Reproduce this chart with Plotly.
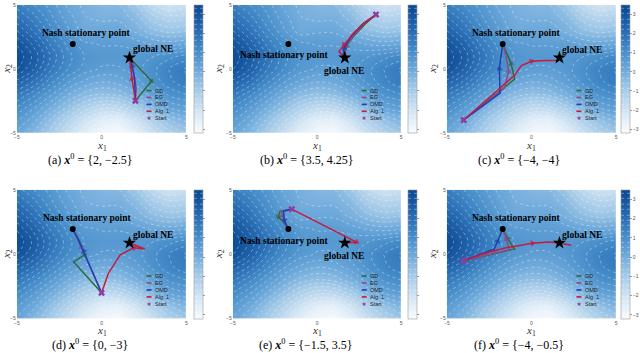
import plotly.graph_objects as go

W, H = 640, 353

# background surface on a coarse grid (rows: x2 from -5 to 5)
X_GRID = [-5, -4, -3, -2, -1, 0, 1, 2, 3, 4, 5]
Y_GRID = [-5, -4, -3, -2, -1, 0, 1, 2, 3, 4, 5]
Z_GRID = [
    [0.2, -0.3, -1.0, -1.8, -2.5, -3.0, -3.1, -2.6, -1.8, -1.2, -0.8],
    [0.6, 0.1, -0.6, -1.3, -2.0, -2.5, -2.6, -2.0, -1.2, -0.6, -0.2],
    [1.1, 0.6, 0.0, -0.6, -1.2, -1.6, -1.5, -1.0, -0.3, 0.3, 0.5],
    [1.7, 1.2, 0.6, 0.0, -0.4, -0.6, -0.5, -0.1, 0.4, 0.9, 1.1],
    [2.4, 1.9, 1.2, 0.6, 0.2, 0.0, 0.1, 0.4, 0.9, 1.3, 1.6],
    [3.1, 2.5, 1.7, 1.1, 0.7, 0.5, 0.5, 0.7, 1.0, 1.4, 1.7],
    [3.3, 2.7, 1.9, 1.2, 0.8, 0.7, 0.7, 0.7, 0.8, 1.0, 1.2],
    [3.0, 2.4, 1.6, 1.0, 0.6, 0.5, 0.5, 0.4, 0.2, 0.1, 0.2],
    [2.5, 1.9, 1.2, 0.6, 0.1, 0.2, 0.2, -0.1, -0.5, -0.7, -0.6],
    [2.0, 1.5, 0.9, 0.4, 0.0, -0.1, -0.1, -0.4, -1.0, -1.3, -1.2],
    [1.5, 1.1, 0.7, 0.2, -0.1, -0.3, -0.3, -0.8, -1.6, -2.0, -1.8],
]
CBAR_TICKS = [-3, -2, -1, 0, 1, 2, 3]

NASH_POINT = [-1.7, 1.95]
GLOBAL_NE = [1.65, 0.87]

PANEL_LETTERS = ["a", "b", "c", "d", "e", "f"]
START_TEXT = ["{2, −2.5}", "{3.5, 4.25}", "{−4, −4}", "{0, −3}", "{−1.5, 3.5}", "{−4, −0.5}"]
STARTS = [[2, -2.5], [3.5, 4.25], [-4, -4], [0, -3], [-1.5, 3.5], [-4, -0.5]]

METHODS = ["GD", "EG", "OMD", "Alg. 1"]

PATHS_A = {
    "GD": ([2, 2.95, 1.65], [-2.5, -0.95, 0.87]),
    "EG": ([2, 2.05, 1.8, 1.65], [-2.5, -1.5, 0.3, 0.87]),
    "OMD": ([2, 1.95, 1.8, 1.65], [-2.5, -0.7, 0.2, 0.87]),
    "Alg. 1": ([2, 1.8, 1.65], [-2.5, -0.8, 0.87]),
}
PATHS_B = {
    "GD": ([3.5, 2.85, 2.2, 1.75, 1.65, 1.65], [4.25, 3.5, 2.6, 1.8, 1.2, 0.87]),
    "EG": ([3.5, 2.8, 2.15, 1.7, 1.6, 1.65], [4.25, 3.55, 2.6, 1.75, 1.2, 0.87]),
    "OMD": ([3.5, 2.7, 2.0, 1.6, 1.55, 1.65], [4.25, 3.5, 2.5, 1.6, 1.1, 0.87]),
    "Alg. 1": ([3.5, 2.8, 2.1, 1.6, 1.3, 1.65], [4.25, 3.6, 2.7, 1.9, 1.35, 0.87]),
}
PATHS_C = {
    "GD": ([-4, -1.0, -1.2, -1.5, -1.7], [-4, -0.8, 0.4, 1.4, 1.95]),
    "EG": ([-4, -1.6, -1.35, -1.5, -1.7], [-4, -1.5, -0.2, 1.0, 1.95]),
    "OMD": ([-4, -1.85, -1.9, -1.75, -1.7], [-4, -1.9, 0.0, 1.5, 1.95]),
    "Alg. 1": ([-4, -1.0, -0.6, 0.0, 0.8, 1.45, 1.65], [-4, -0.5, 0.25, 0.6, 0.66, 0.66, 0.87]),
}
PATHS_D = {
    "GD": ([0, -1.65, -1.0, -1.3, -1.7], [-3, -0.6, -0.05, 1.0, 1.95]),
    "EG": ([0, -0.6, -1.2, -1.7], [-3, -1.2, 0.6, 1.95]),
    "OMD": ([0, -0.5, -1.05, -1.4, -1.7], [-3, -1.5, 0.25, 1.2, 1.95]),
    "Alg. 1": ([0, 0.4, 1.1, 1.9, 2.55, 1.65], [-3, -1.5, -0.05, 0.5, 0.4, 0.87]),
}
PATHS_E = {
    "GD": ([-1.5, -2.2, -2.3, -2.0, -1.7], [3.5, 3.32, 2.9, 2.5, 1.95]),
    "EG": ([-1.5, -2.15, -2.05, -1.9, -1.7], [3.5, 3.3, 3.0, 2.4, 1.95]),
    "OMD": ([-1.5, -2.0, -1.94, -1.7], [3.5, 3.32, 2.63, 1.95]),
    "Alg. 1": ([-1.5, 0.6, 2.35, 1.65], [3.5, 2.07, 0.93, 0.87]),
}
PATHS_F = {
    "GD": ([-4, -1.0, -1.4, -1.7], [-0.5, 0.4, 1.2, 1.95]),
    "EG": ([-4, -1.3, -1.5, -1.7], [-0.5, 0.35, 1.2, 1.95]),
    "OMD": ([-4, -2.2, -2.0, -1.8, -1.7], [-0.5, 0.4, 1.0, 1.6, 1.95]),
    "Alg. 1": ([-4, -2.8, -1.5, 0.05, 1.0, 1.65, 2.35], [-0.5, 0.05, 0.5, 0.85, 0.95, 0.87, 0.7]),
}
PATHS = [PATHS_A, PATHS_B, PATHS_C, PATHS_D, PATHS_E, PATHS_F]

# label centres in data units
NASH_LABEL_XY = [[-0.9, 2.8], [-1.95, 1.05], [-0.9, 2.8], [-0.87, 2.84], [-1.95, 1.05], [-0.93, 2.84]]
NE_LABEL_XY = [[3.05, 1.55], [1.6, -0.15], [3.0, 1.5], [3.05, 1.5], [1.6, -0.15], [3.0, 1.5]]

COLORS = {"GD": "#2f6a3c", "EG": "#8a4d8c", "OMD": "#1e3fb0", "Alg. 1": "#c61a3e"}
START_COLOR = "#8e3c9e"
BLUES = [
    [0.0, "#f9fcff"], [0.15, "#d8e8f5"], [0.35, "#a2c9e8"], [0.5, "#6ca8da"],
    [0.65, "#448bc8"], [0.8, "#276bb3"], [1.0, "#0a4790"],
]
SERIF = "Liberation Serif, DejaVu Serif, serif"
SANS = "Liberation Sans, Arial, sans-serif"

COL_PX = [(14, 185), (232, 402), (448, 619)]
ROW_PX = [(2, 132), (190, 321)]
CBAR_PX = [193, 409, 624]
CAPTION_PX = [88, 306, 521]
CAPTION_PY = [159, 347]
YLABEL_PX = [4, 218, 434]
XLABEL_PY = [145, 334]
LEGEND_TOP = 0.33
LEGEND_STEP = 0.054


def px_x(v):
    return v / W


def px_y(v):
    return 1 - v / H


fig = go.Figure()
annotations = []
shapes = []

for i in range(6):
    r, c = divmod(i, 3)
    k = "" if i == 0 else str(i + 1)
    xa, ya = "x" + k, "y" + k
    x0, x1 = COL_PX[c]
    y0, y1 = ROW_PX[r]

    show_labels = c == 2
    fig.add_trace(go.Contour(
        x=X_GRID, y=Y_GRID, z=Z_GRID,
        xaxis=xa, yaxis=ya,
        colorscale=BLUES, zmin=-3.2, zmax=3.5,
        contours=dict(coloring="heatmap", start=-3.1, end=3.4, size=0.28),
        line=dict(color="rgba(255,255,255,0.6)", width=0.6, dash="dot", smoothing=1.3),
        hoverinfo="skip",
        colorbar=dict(
            x=px_x(CBAR_PX[c]), xanchor="left", y=px_y(y0), yanchor="top",
            len=(y1 - y0) / H, lenmode="fraction", thickness=9, thicknessmode="pixels",
            xpad=0, ypad=0, outlinewidth=0.6, outlinecolor="#9a9a9a",
            tickvals=CBAR_TICKS, ticks="outside", ticklen=2, tickcolor="#999",
            showticklabels=show_labels, tickfont=dict(size=5, color="#555", family=SANS),
        ),
    ))

    for m in METHODS:
        xs, ys = PATHS[i][m]
        sizes = [0] * len(xs)
        sizes[len(xs) // 2] = 6
        fig.add_trace(go.Scatter(
            x=xs, y=ys, xaxis=xa, yaxis=ya, mode="lines+markers",
            line=dict(color=COLORS[m], width=1.5),
            marker=dict(symbol="triangle-up", size=sizes, angleref="previous",
                        color=COLORS[m], line=dict(width=0)),
            showlegend=False, hoverinfo="skip",
        ))

    fig.add_trace(go.Scatter(
        x=[NASH_POINT[0]], y=[NASH_POINT[1]], xaxis=xa, yaxis=ya, mode="markers",
        marker=dict(symbol="circle", size=6, color="black"), showlegend=False,
    ))
    fig.add_trace(go.Scatter(
        x=[GLOBAL_NE[0]], y=[GLOBAL_NE[1]], xaxis=xa, yaxis=ya, mode="markers",
        marker=dict(symbol="star", size=10, color="black"), showlegend=False,
    ))
    fig.add_trace(go.Scatter(
        x=[STARTS[i][0]], y=[STARTS[i][1]], xaxis=xa, yaxis=ya, mode="markers",
        marker=dict(symbol="x", size=6, color=START_COLOR, line=dict(width=0)), showlegend=False,
    ))

    axis_common = dict(
        range=[-5, 5], showgrid=False, zeroline=False, showline=False,
        tickvals=[-5, 0, 5], tickfont=dict(size=5, color="#555", family=SANS), ticks="",
    )
    fig.update_layout({
        "xaxis" + k: dict(axis_common, domain=[px_x(x0), px_x(x1)], anchor=ya),
        "yaxis" + k: dict(axis_common, domain=[px_y(y1), px_y(y0)], anchor=xa),
    })

    # point labels
    annotations.append(dict(
        x=NASH_LABEL_XY[i][0], y=NASH_LABEL_XY[i][1], xref=xa, yref=ya,
        text="<b>Nash stationary point</b>", showarrow=False,
        xanchor="center", yanchor="middle",
        font=dict(family=SERIF, size=9.5, color="black"),
    ))
    annotations.append(dict(
        x=NE_LABEL_XY[i][0], y=NE_LABEL_XY[i][1], xref=xa, yref=ya,
        text="<b>global NE</b>", showarrow=False,
        xanchor="center", yanchor="middle",
        font=dict(family=SERIF, size=9.5, color="black"),
    ))

    # small legend drawn inside the plot
    for j, m in enumerate(METHODS + ["Start"]):
        ly = LEGEND_TOP - j * LEGEND_STEP
        if m == "Start":
            annotations.append(dict(
                x=0.78, y=ly, xref=xa + " domain", yref=ya + " domain", text="✖",
                xanchor="center", yanchor="middle",
                showarrow=False, font=dict(size=5, color=START_COLOR, family=SANS),
            ))
        else:
            shapes.append(dict(
                type="line", xref=xa + " domain", yref=ya + " domain",
                x0=0.765, x1=0.795, y0=ly, y1=ly, line=dict(color=COLORS[m], width=1.6),
            ))
        annotations.append(dict(
            x=0.805, y=ly, xref=xa + " domain", yref=ya + " domain", text=m,
            xanchor="left", yanchor="middle",
            showarrow=False, font=dict(size=5.5, color="#222", family=SANS),
        ))

    # axis titles and caption
    annotations.append(dict(
        x=px_x((x0 + x1) / 2), y=px_y(XLABEL_PY[r]), xref="paper", yref="paper",
        text="<i>x</i><sub>1</sub>", showarrow=False,
        xanchor="center", yanchor="middle",
        font=dict(family=SERIF, size=11, color="#333"),
    ))
    annotations.append(dict(
        x=px_x(YLABEL_PX[c]), y=px_y((y0 + y1) / 2), xref="paper", yref="paper",
        text="<i>x</i><sub>2</sub>", showarrow=False, textangle=-90,
        xanchor="center", yanchor="middle",
        font=dict(family=SERIF, size=11, color="#333"),
    ))
    annotations.append(dict(
        x=px_x(CAPTION_PX[c]), y=px_y(CAPTION_PY[r]), xref="paper", yref="paper",
        text="(" + PANEL_LETTERS[i] + ") <b><i>x</i></b><sup>0</sup> = " + START_TEXT[i],
        xanchor="center", yanchor="middle",
        showarrow=False, font=dict(family=SERIF, size=12, color="black"),
    ))

fig.update_layout(
    width=W, height=H,
    margin=dict(l=0, r=0, t=0, b=0),
    paper_bgcolor="white", plot_bgcolor="white",
    showlegend=False,
    annotations=annotations,
    shapes=shapes,
)

fig.write_html(
    "out.html",
    config={"displayModeBar": False},
    post_script="document.body.style.margin='0';",
)
